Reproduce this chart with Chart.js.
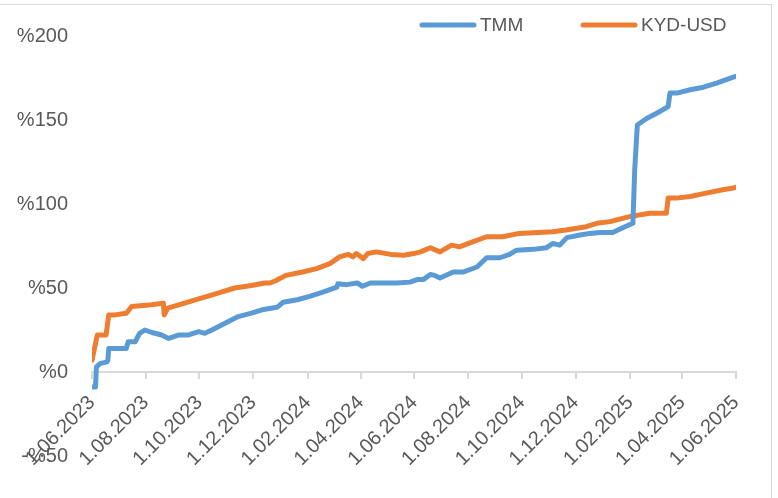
<!DOCTYPE html>
<html>
<head>
<meta charset="utf-8">
<script src="https://cdn.jsdelivr.net/npm/chart.js@4.4.1/dist/chart.umd.min.js"></script>
<style>
  html, body { margin: 0; padding: 0; background: #fff; overflow: hidden; }
  #wrap { position: relative; width: 778px; height: 498px; }
  #frame { position: absolute; left: -2px; top: 4px; width: 774px; height: 520px; border: 1px solid #d9d9d9; box-sizing: border-box; pointer-events: none; }
</style>
</head>
<body>
<div id="wrap">
  <canvas id="chart" width="778" height="498"></canvas>
  <div id="frame"></div>
</div>
<script>
const tmmDates = [
  "2023-06-01", "2023-06-05", "2023-06-06", "2023-06-10", "2023-06-18", "2023-06-19", "2023-06-20",
  "2023-07-10", "2023-07-12", "2023-07-20", "2023-07-25", "2023-07-31", "2023-08-08", "2023-08-19",
  "2023-08-27", "2023-09-07", "2023-09-18", "2023-09-30", "2023-10-07", "2023-10-15", "2023-10-30",
  "2023-11-14", "2023-11-29", "2023-12-11", "2023-12-28", "2024-01-04", "2024-01-20", "2024-02-03",
  "2024-02-18", "2024-03-05", "2024-03-06", "2024-03-16", "2024-03-28", "2024-04-03", "2024-04-12",
  "2024-04-26", "2024-05-12", "2024-05-27", "2024-06-04", "2024-06-11", "2024-06-19", "2024-06-24",
  "2024-06-30", "2024-07-15", "2024-07-26", "2024-08-11", "2024-08-22", "2024-09-06", "2024-09-17",
  "2024-09-25", "2024-10-14", "2024-10-29", "2024-11-05", "2024-11-13", "2024-11-21", "2024-12-06",
  "2024-12-17", "2024-12-29", "2025-01-12", "2025-01-24", "2025-02-04", "2025-02-06", "2025-02-09",
  "2025-02-20", "2025-03-03", "2025-03-16", "2025-03-18", "2025-03-26", "2025-04-10", "2025-04-25",
  "2025-05-10", "2025-05-29", "2025-06-01",
];
const tmmValues = [
  -9, -9, 3, 5, 6, 7, 14,
  14, 18, 18, 23, 25, 23.5, 22,
  20, 22, 22, 24, 23, 25, 29,
  33, 35, 37, 38.5, 41.5, 43, 45,
  47.5, 50.5, 52.5, 52, 53, 51, 53,
  53, 53, 53.5, 55, 55, 58, 57.5,
  56, 59.5, 59.5, 62.5, 68, 68, 70,
  72.5, 73, 74, 76.5, 75.5, 80, 81.5,
  82.5, 83, 83, 86, 88.5, 120, 147,
  151, 154, 158, 166, 166, 168, 169.5,
  172, 175.5, 176,
];

const kydDates = [
  "2023-06-01", "2023-06-03", "2023-06-07", "2023-06-17", "2023-06-20", "2023-06-27", "2023-07-10",
  "2023-07-16", "2023-08-08", "2023-08-21", "2023-08-22", "2023-08-26", "2023-09-14", "2023-10-03",
  "2023-10-22", "2023-11-10", "2023-11-29", "2023-12-14", "2023-12-20", "2023-12-27", "2024-01-07",
  "2024-01-26", "2024-02-11", "2024-02-26", "2024-03-08", "2024-03-18", "2024-03-23", "2024-03-27",
  "2024-04-04", "2024-04-09", "2024-04-19", "2024-05-05", "2024-05-20", "2024-05-31", "2024-06-08",
  "2024-06-19", "2024-06-30", "2024-07-13", "2024-07-22", "2024-08-06", "2024-08-22", "2024-09-09",
  "2024-09-28", "2024-11-05", "2024-11-20", "2024-12-13", "2024-12-25", "2025-01-09", "2025-01-31",
  "2025-02-23", "2025-03-14", "2025-03-16", "2025-03-25", "2025-04-10", "2025-04-28", "2025-05-17",
  "2025-05-29", "2025-06-01",
];
const kydValues = [
  7, 12, 22, 22, 34, 34, 35,
  39, 40, 41, 34, 38, 41, 44,
  47, 50, 51.5, 53, 53, 54.5, 57.5,
  59.5, 61.5, 64.5, 68.5, 70, 68.5, 70.5,
  67.5, 70.5, 71.5, 70, 69.5, 70.5, 71.5,
  74, 71.5, 75.5, 74.5, 77.5, 80.5, 80.5,
  82.5, 83.5, 84.5, 86.5, 88.5, 89.5, 92.5,
  94.5, 94.5, 103.5, 103.5, 104.5, 106.5, 108.5,
  109.5, 110,
];

const tickDates = [
  "2023-06-01", "2023-08-01", "2023-10-01", "2023-12-01", "2024-02-01", "2024-04-01", "2024-06-01",
  "2024-08-01", "2024-10-01", "2024-12-01", "2025-02-01", "2025-04-01", "2025-06-01",
];
const yMin = -50, yMax = 200, yStep = 50;

const textColor = "#595959";
const axisFont = { family: "'Liberation Sans', Arial, sans-serif", size: 20 };

function toPoints(dates, values) {
  return dates.map((d, i) => ({ x: Date.parse(d), y: values[i] }));
}

function fmtDate(ms) {
  const d = new Date(ms);
  const mm = String(d.getUTCMonth() + 1).padStart(2, "0");
  return d.getUTCDate() + "." + mm + "." + d.getUTCFullYear();
}

// legend: short thick line + label for each series, placed above the plot on the right
const legendOffsets = [316, 155];
const lineLegend = {
  id: "lineLegend",
  afterDraw(chart) {
    const { ctx, chartArea } = chart;
    ctx.save();
    ctx.font = "19px 'Liberation Sans', Arial, sans-serif";
    ctx.textBaseline = "middle";
    const y = 25;
    chart.data.datasets.forEach((ds, i) => {
      const x0 = chartArea.right - legendOffsets[i];
      ctx.strokeStyle = ds.borderColor;
      ctx.lineWidth = 5;
      ctx.lineCap = "round";
      ctx.beginPath();
      ctx.moveTo(x0 + 2, y);
      ctx.lineTo(x0 + 54, y);
      ctx.stroke();
      ctx.fillStyle = textColor;
      ctx.fillText(ds.label, x0 + 60, y + 1);
    });
    ctx.restore();
  },
};

new Chart(document.getElementById("chart"), {
  type: "line",
  data: {
    datasets: [
      {
        label: "TMM",
        data: toPoints(tmmDates, tmmValues),
        borderColor: "#5B9BD5",
        backgroundColor: "#5B9BD5",
        borderWidth: 5,
        borderCapStyle: "round",
        borderJoinStyle: "round",
        pointRadius: 0,
        tension: 0,
      },
      {
        label: "KYD-USD",
        data: toPoints(kydDates, kydValues),
        borderColor: "#ED7D31",
        backgroundColor: "#ED7D31",
        borderWidth: 5,
        borderCapStyle: "round",
        borderJoinStyle: "round",
        pointRadius: 0,
        tension: 0,
      },
    ],
  },
  options: {
    responsive: false,
    animation: false,
    devicePixelRatio: 1,
    layout: { padding: { top: 36, right: 42, bottom: 42, left: 0 } },
    plugins: { legend: { display: false }, tooltip: { enabled: false } },
    scales: {
      x: {
        type: "linear",
        position: { y: 0 },
        min: Date.parse(tickDates[0]),
        max: Date.parse(tickDates[tickDates.length - 1]),
        afterBuildTicks: (scale) => {
          scale.ticks = tickDates.map((d) => ({ value: Date.parse(d) }));
        },
        afterFit: (scale) => { scale.height = 0; },
        border: { display: true, color: "#d9d9d9", width: 2 },
        grid: { drawOnChartArea: false, color: "#d9d9d9", lineWidth: 2, tickLength: 6 },
        ticks: {
          autoSkip: false,
          minRotation: 45,
          maxRotation: 45,
          padding: 13,
          color: textColor,
          font: axisFont,
          callback: (v) => fmtDate(v),
        },
      },
      y: {
        min: yMin,
        max: yMax,
        afterFit: (scale) => { scale.width = 92; },
        border: { display: false },
        grid: { display: false, drawTicks: false },
        ticks: {
          stepSize: yStep,
          padding: 24,
          color: textColor,
          font: axisFont,
          callback: (v) => (v < 0 ? "-%" + (-v) : "%" + v),
        },
      },
    },
  },
  plugins: [lineLegend],
});
</script>
</body>
</html>
